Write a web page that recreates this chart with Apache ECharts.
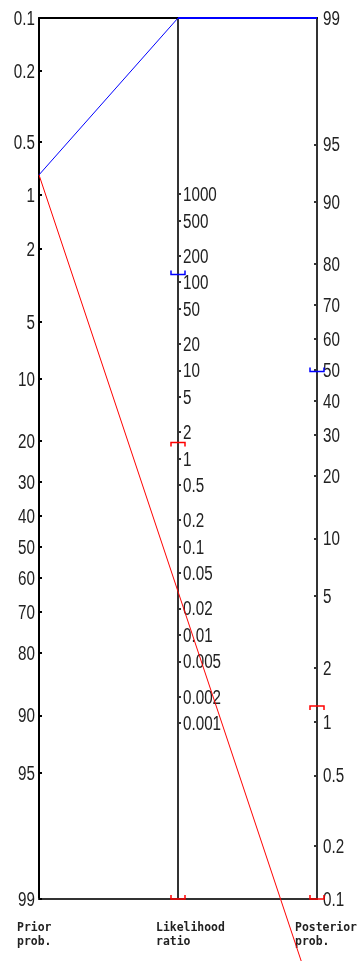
<!DOCTYPE html>
<html>
<head>
<meta charset="utf-8">
<script src="https://cdn.jsdelivr.net/npm/echarts@6/dist/echarts.min.js"></script>
<style>
  html, body { margin: 0; padding: 0; background: #fff; }
  #chart { width: 358px; height: 961px; }
</style>
</head>
<body>
<div id="chart"></div>
<script>
// Tick labels of the three nomogram scales
const priorTicks = ['0.1', '0.2', '0.5', '1', '2', '5', '10', '20', '30', '40', '50', '60', '70', '80', '90', '95', '99'];
const lrTicks = ['1000', '500', '200', '100', '50', '20', '10', '5', '2', '1', '0.5', '0.2', '0.1', '0.05', '0.02', '0.01', '0.005', '0.002', '0.001'];
const postTicks = ['99', '95', '90', '80', '70', '60', '50', '40', '30', '20', '10', '5', '2', '1', '0.5', '0.2', '0.1'];
const axisTitles = ['Prior\nprob.', 'Likelihood\nratio', 'Posterior\nprob.'];

// Pre-test probability (%) shared by both lines
const priorProb = 0.77;
// Positive test (blue) and negative test (red)
const lineLR = [Infinity, 0.031];
const linePost = [100, 0.024];
const lineColors = ['#0000ff', '#ff0000'];
// Confidence bounds [lower, upper]; null = not drawn
const lrBounds = [[122, null], [0, 1.52]];
const postBounds = [[49.5, null], [0, 1.23]];

// Probability scale limits (%)
const P_LO = 0.1, P_HI = 99;

const logit = pct => { const p = pct / 100; return Math.log(p / (1 - p)); };
const A = logit(P_LO), B = logit(P_HI);
// Infinite values are pinned to the end of their scale
const pin = (v, lo, hi) => isFinite(v) ? v : (v > 0 ? hi : lo);

// Everything is plotted in the units of the prior (left) scale
const priorU = pct => logit(pct);
const lrU = lr => (A + B) / 2 - pin(Math.log(lr), A - B, B - A) / 2;
const postU = pct => A + B - pin(logit(pct), A, B);

const LABEL_FONT = '20px "Liberation Sans", Arial, sans-serif';
const LABEL_SCALE = 0.76;

function scaleAxis(lineColor, values, extra) {
  return Object.assign({
    type: 'value',
    splitLine: { show: false },
    axisLine: { show: true, onZero: false, lineStyle: { color: lineColor, width: 2 } },
    axisTick: { show: true, inside: true, length: 3, customValues: values, lineStyle: { color: lineColor, width: 2 } },
    axisLabel: { show: false }
  }, extra);
}

const yAxes = [
  // Prior probability, increasing downwards
  scaleAxis('#000', priorTicks.map(t => logit(parseFloat(t))), { min: A, max: B, inverse: true, position: 'left' }),
  // Posterior probability, increasing upwards
  scaleAxis('#333', postTicks.map(t => logit(parseFloat(t))), { min: A, max: B, position: 'right' }),
  // Likelihood ratio (natural log), in the middle
  scaleAxis('#333', lrTicks.map(t => Math.log(parseFloat(t))), { min: A - B, max: B - A, position: 'left', offset: -139 })
];

const frameAxis = (pos, color) => ({
  type: 'value', min: 0, max: 2, position: pos,
  axisLine: { show: true, onZero: false, lineStyle: { color: color, width: 2 } },
  axisTick: { show: false }, axisLabel: { show: false }, splitLine: { show: false }
});

// Tick labels, narrowed horizontally, placed through the shared scale
function labelSeries(ticks, xPos, toU, dx, align) {
  return {
    type: 'custom', xAxisIndex: 0, yAxisIndex: 0, clip: false, silent: true, z: 4,
    encode: { x: 0, y: 1 },
    data: ticks.map((t, i) => [xPos, toU(parseFloat(t)), i]),
    renderItem: (params, api) => {
      const p = api.coord([api.value(0), api.value(1)]);
      return {
        type: 'text', x: p[0] + dx, y: p[1] + 1.5, scaleX: LABEL_SCALE,
        style: { text: ticks[api.value(2)], font: LABEL_FONT, fill: '#222', align: align, verticalAlign: 'middle' }
      };
    }
  };
}

const series = [];

// Each line runs prior -> likelihood ratio -> posterior
lineLR.forEach((lr, i) => {
  const pinned = [false, !isFinite(Math.log(lr)), !isFinite(logit(linePost[i]))];
  const pts = [[0, priorU(priorProb)], [1, lrU(lr)], [2, postU(linePost[i])]];
  series.push({
    type: 'line', xAxisIndex: 0, yAxisIndex: 0, clip: false, symbol: 'none', z: 5,
    lineStyle: { color: lineColors[i], width: 1 }, data: pts
  });
  // Stretches pinned to the scale end are drawn at frame weight
  const edge = [];
  for (let k = 1; k < pts.length; k++) {
    if (pinned[k - 1] && pinned[k]) edge.push(pts[k - 1], pts[k], '-');
  }
  if (edge.length) {
    series.push({
      type: 'line', xAxisIndex: 0, yAxisIndex: 0, clip: false, symbol: 'none', z: 5,
      lineStyle: { color: lineColors[i], width: 2 }, data: edge.filter(d => d !== '-')
    });
  }
});

// Bracket marks: lower bounds open upwards, upper bounds open downwards
lineColors.forEach((color, i) => {
  const data = [];
  lrBounds[i].forEach((v, k) => { if (v !== null) data.push([1, lrU(v), k === 0 ? 1 : -1]); });
  postBounds[i].forEach((v, k) => { if (v !== null) data.push([2, postU(v), k === 0 ? 1 : -1]); });
  series.push({
    type: 'custom', xAxisIndex: 0, yAxisIndex: 0, clip: false, z: 6,
    encode: { x: 0, y: 1 },
    data: data,
    renderItem: (params, api) => {
      const p = api.coord([api.value(0), api.value(1)]);
      const d = api.value(2), w = 7, h = 4;
      return {
        type: 'polyline',
        shape: { points: [[p[0] - w, p[1] - h * d], [p[0] - w, p[1]], [p[0] + w, p[1]], [p[0] + w, p[1] - h * d]] },
        style: { stroke: color, fill: null, lineWidth: 1.5 }
      };
    }
  });
});

series.push(labelSeries(priorTicks, 0, priorU, -4, 'right'));
series.push(labelSeries(lrTicks, 1, lrU, 5, 'left'));
series.push(labelSeries(postTicks, 2, postU, 6, 'left'));

const chart = echarts.init(document.getElementById('chart'), null, { renderer: 'canvas' });
chart.setOption({
  animation: false,
  backgroundColor: '#fff',
  grid: { left: 39, right: 41, top: 18, bottom: 62, containLabel: false, outerBoundsMode: 'none' },
  xAxis: [frameAxis('bottom', '#333'), frameAxis('top', '#000')],
  yAxis: yAxes,
  series: series
});

// Scale titles under each vertical scale
chart.setOption({
  graphic: axisTitles.map((t, i) => ({
    type: 'text',
    x: chart.convertToPixel({ xAxisIndex: 0 }, i) - 22,
    y: 921, scaleX: 0.88,
    style: { text: t, font: 'bold 13px "DejaVu Sans Mono", monospace', fill: '#222', lineHeight: 14 }
  }))
});
</script>
</body>
</html>
